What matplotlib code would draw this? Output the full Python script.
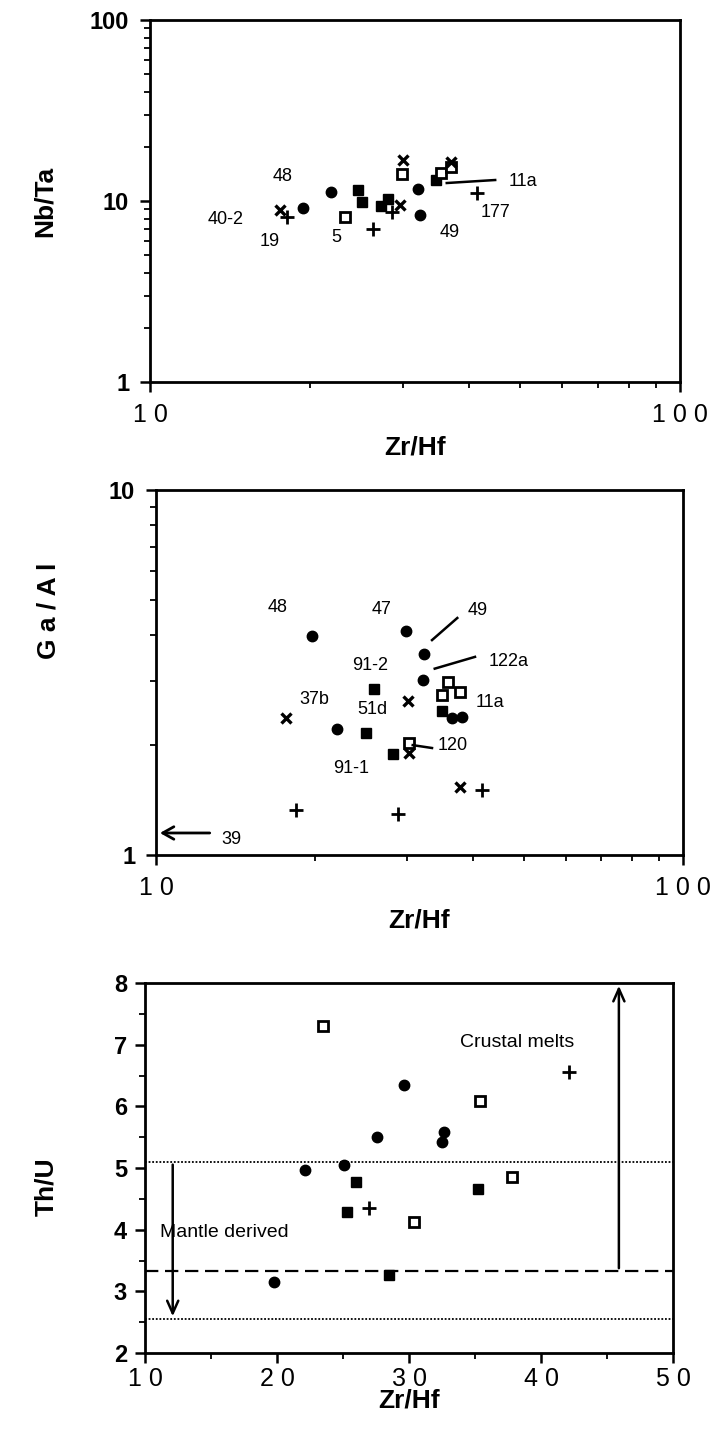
import matplotlib
matplotlib.use("Agg")
import matplotlib.pyplot as plt
from matplotlib.ticker import FixedLocator, FixedFormatter, LogLocator, NullFormatter, MultipleLocator

plt.rcParams['font.family'] = ['Liberation Sans', 'DejaVu Sans']

# ---------------- data: panel 1 (Zr/Hf vs Nb/Ta) ----------------
p1_circle_x = [19.4, 22.0, 32.0, 32.3]
p1_circle_y = [9.15, 11.2, 11.65, 8.37]
p1_fsq_x = [24.7, 25.1, 27.3, 28.1, 34.6]
p1_fsq_y = [11.5, 9.87, 9.38, 10.26, 13.06]
p1_osq_x = [23.3, 29.9, 35.4, 37.0]
p1_osq_y = [8.16, 14.1, 14.3, 15.4]
p1_cross_x = [17.6, 29.6, 30.0, 37.0]
p1_cross_y = [8.92, 9.5, 16.85, 16.4]
p1_plus_x = [18.1, 26.4, 28.6, 41.4]
p1_plus_y = [8.16, 7.0, 8.69, 11.07]
p1_labels = ["48", "40-2", "19", "5", "49", "11a", "177"]

# ---------------- data: panel 2 (Zr/Hf vs Ga/Al) ----------------
p2_circle_x = [19.8, 29.8, 32.25, 32.1, 22.1, 36.45, 38.1]
p2_circle_y = [3.98, 4.11, 3.55, 3.02, 2.21, 2.37, 2.39]
p2_fsq_x = [25.9, 25.0, 34.9, 28.2]
p2_fsq_y = [2.85, 2.16, 2.48, 1.89]
p2_osq_x = [35.8, 37.75, 34.9, 30.2]
p2_osq_y = [2.98, 2.80, 2.74, 2.03]
p2_cross_x = [30.1, 17.65, 30.2, 37.75]
p2_cross_y = [2.64, 2.37, 1.90, 1.535]
p2_plus_x = [41.6, 18.4, 28.8]
p2_plus_y = [1.507, 1.328, 1.295]
p2_labels = ["48", "47", "49", "122a", "91-2", "11a", "37b", "51d", "120", "91-1", "39"]

# ---------------- data: panel 3 (Zr/Hf vs Th/U) ----------------
p3_circle_x = [29.6, 27.6, 32.65, 32.5, 22.1, 25.1, 19.8]
p3_circle_y = [6.35, 5.50, 5.58, 5.42, 4.97, 5.05, 3.15]
p3_fsq_x = [26.0, 35.2, 25.3, 28.5]
p3_fsq_y = [4.77, 4.66, 4.28, 3.27]
p3_osq_x = [23.5, 35.4, 37.8, 30.4]
p3_osq_y = [7.30, 6.09, 4.85, 4.12]
p3_plus_x = [42.1, 27.0]
p3_plus_y = [6.56, 4.35]
p3_upper_line = 5.1
p3_mid_line = 3.33
p3_lower_line = 2.55

# ---------------- figure ----------------
W, H = 711, 1432
fig = plt.figure(figsize=(W / 100, H / 100), dpi=100)

def add_ax(l, r, t, b):
    return fig.add_axes([l / W, 1 - b / H, (r - l) / W, (b - t) / H])

ax1 = add_ax(150, 680, 20, 382)
ax2 = add_ax(156, 683, 490, 855)
ax3 = add_ax(145, 673, 983, 1353)

ms_c, ms_s, ms_o, ms_x, ms_p = 7.5, 7, 6.5, 7, 10

def scatter_sets(ax, sets):
    for (xs, ys, kind) in sets:
        if kind == 'circle':
            ax.plot(xs, ys, 'o', ms=ms_c, color='black', mec='black', ls='none')
        elif kind == 'fsq':
            ax.plot(xs, ys, 's', ms=ms_s, color='black', mec='black', ls='none')
        elif kind == 'osq':
            ax.plot(xs, ys, 's', ms=ms_o, mfc='white', mec='black', mew=2.0, ls='none')
        elif kind == 'cross':
            ax.plot(xs, ys, 'x', ms=ms_x, color='black', mew=2.4, ls='none')
        elif kind == 'plus':
            ax.plot(xs, ys, '+', ms=ms_p, color='black', mew=2.0, ls='none')

def style_axes(ax):
    for s in ax.spines.values():
        s.set_linewidth(2.0)
        s.set_color('black')
    ax.tick_params(which='major', direction='out', length=7, width=1.8, colors='black')
    ax.tick_params(which='minor', direction='out', length=4, width=1.3, colors='black')

lab_fs = 13
xtick_fs = 18
ytick_fs = 17
axlab_fs = 19
note_fs = 14

# ---- panel 1 ----
ax1.set_xscale('log'); ax1.set_yscale('log')
ax1.set_xlim(10, 100); ax1.set_ylim(1, 100)
scatter_sets(ax1, [(p1_circle_x, p1_circle_y, 'circle'), (p1_fsq_x, p1_fsq_y, 'fsq'),
                   (p1_osq_x, p1_osq_y, 'osq'), (p1_cross_x, p1_cross_y, 'cross'),
                   (p1_plus_x, p1_plus_y, 'plus')])
p1_label_pos = [(17.8, 13.6), (13.9, 7.95), (16.8, 5.94), (22.5, 6.32), (36.7, 6.74), (50.5, 12.74), (44.8, 8.59)]
for t, (x, y) in zip(p1_labels, p1_label_pos):
    ax1.text(x, y, t, fontsize=lab_fs, ha='center', va='center')
ax1.plot([36.3, 44.8], [12.57, 13.06], color='black', lw=1.8)
ax1.xaxis.set_major_locator(FixedLocator([10, 100]))
ax1.xaxis.set_major_formatter(FixedFormatter(["1 0", "1 0 0"]))
ax1.xaxis.set_minor_locator(LogLocator(base=10, subs=range(2, 10)))
ax1.xaxis.set_minor_formatter(NullFormatter())
ax1.yaxis.set_major_locator(FixedLocator([1, 10, 100]))
ax1.yaxis.set_major_formatter(FixedFormatter(["1", "10", "100"]))
ax1.yaxis.set_minor_locator(LogLocator(base=10, subs=range(2, 10)))
ax1.yaxis.set_minor_formatter(NullFormatter())
style_axes(ax1)
ax1.tick_params(axis='x', labelsize=xtick_fs, pad=8)
ax1.tick_params(axis='y', labelsize=ytick_fs, pad=8)
for lb in ax1.get_yticklabels():
    lb.set_fontweight('bold')
ax1.set_xlabel("Zr/Hf", fontsize=axlab_fs, fontweight='bold', labelpad=6)
ax1.set_ylabel("Nb/Ta", fontsize=axlab_fs, fontweight='bold')
ax1.yaxis.set_label_coords(-0.176, 0.5)

# ---- panel 2 ----
ax2.set_xscale('log'); ax2.set_yscale('log')
ax2.set_xlim(10, 100); ax2.set_ylim(1, 10)
scatter_sets(ax2, [(p2_circle_x, p2_circle_y, 'circle'), (p2_fsq_x, p2_fsq_y, 'fsq'),
                   (p2_osq_x, p2_osq_y, 'osq'), (p2_cross_x, p2_cross_y, 'cross'),
                   (p2_plus_x, p2_plus_y, 'plus')])
p2_label_pos = [(17.0, 4.78), (26.8, 4.72), (40.8, 4.69), (46.6, 3.40), (25.5, 3.30),
                (43.0, 2.61), (20.0, 2.66), (25.7, 2.51), (36.5, 1.99), (23.5, 1.73), (13.9, 1.10)]
for t, (x, y) in zip(p2_labels, p2_label_pos):
    ax2.text(x, y, t, fontsize=lab_fs, ha='center', va='center')
ax2.plot([33.4, 37.3], [3.88, 4.46], color='black', lw=1.8)
ax2.plot([33.8, 40.3], [3.24, 3.49], color='black', lw=1.8)
ax2.plot([30.7, 33.4], [2.0, 1.964], color='black', lw=1.8)
ax2.annotate("", xy=(10.05, 1.149), xytext=(12.8, 1.149),
             arrowprops=dict(arrowstyle='->,head_length=0.8,head_width=0.45', lw=2.0, color='black'))
ax2.xaxis.set_major_locator(FixedLocator([10, 100]))
ax2.xaxis.set_major_formatter(FixedFormatter(["1 0", "1 0 0"]))
ax2.xaxis.set_minor_locator(LogLocator(base=10, subs=range(2, 10)))
ax2.xaxis.set_minor_formatter(NullFormatter())
ax2.yaxis.set_major_locator(FixedLocator([1, 10]))
ax2.yaxis.set_major_formatter(FixedFormatter(["1", "10"]))
ax2.yaxis.set_minor_locator(LogLocator(base=10, subs=range(2, 10)))
ax2.yaxis.set_minor_formatter(NullFormatter())
style_axes(ax2)
ax2.tick_params(axis='x', labelsize=xtick_fs, pad=8)
ax2.tick_params(axis='y', labelsize=ytick_fs, pad=8)
for lb in ax2.get_yticklabels():
    lb.set_fontweight('bold')
ax2.set_xlabel("Zr/Hf", fontsize=axlab_fs, fontweight='bold', labelpad=6)
ax2.set_ylabel("G a / A l", fontsize=axlab_fs, fontweight='bold')
ax2.yaxis.set_label_coords(-0.182, 0.67)

# ---- panel 3 ----
ax3.set_xlim(10, 50); ax3.set_ylim(2, 8)
ax3.axhline(p3_upper_line, color='black', lw=1.3, ls=(0, (1, 1)))
ax3.axhline(p3_mid_line, color='black', lw=1.6, ls=(0, (6, 3)))
ax3.axhline(p3_lower_line, color='black', lw=1.3, ls=(0, (1, 1)))
scatter_sets(ax3, [(p3_circle_x, p3_circle_y, 'circle'), (p3_fsq_x, p3_fsq_y, 'fsq'),
                   (p3_osq_x, p3_osq_y, 'osq'), (p3_plus_x, p3_plus_y, 'plus')])
ax3.annotate("", xy=(12.1, p3_lower_line), xytext=(12.1, p3_upper_line),
             arrowprops=dict(arrowstyle='->,head_length=0.9,head_width=0.4', lw=1.8, color='black'))
ax3.annotate("", xy=(45.9, 8.0), xytext=(45.9, p3_mid_line),
             arrowprops=dict(arrowstyle='->,head_length=0.9,head_width=0.4', lw=1.8, color='black'))
ax3.text(33.9, 7.03, "Crustal melts", fontsize=note_fs, ha='left', va='center')
ax3.text(11.1, 3.95, "Mantle derived", fontsize=note_fs, ha='left', va='center')
ax3.xaxis.set_major_locator(FixedLocator([10, 20, 30, 40, 50]))
ax3.xaxis.set_major_formatter(FixedFormatter(["1 0", "2 0", "3 0", "4 0", "5 0"]))
ax3.xaxis.set_minor_locator(MultipleLocator(5))
ax3.yaxis.set_major_locator(MultipleLocator(1))
ax3.yaxis.set_minor_locator(MultipleLocator(0.5))
style_axes(ax3)
ax3.tick_params(axis='x', labelsize=xtick_fs, pad=3)
ax3.tick_params(axis='y', labelsize=ytick_fs, pad=6)
for lb in ax3.get_yticklabels():
    lb.set_fontweight('bold')
ax3.set_xlabel("Zr/Hf", fontsize=axlab_fs, fontweight='bold', labelpad=-2)
ax3.set_ylabel("Th/U", fontsize=axlab_fs, fontweight='bold')
ax3.yaxis.set_label_coords(-0.165, 0.45)

fig.savefig("out.png", dpi=100)
